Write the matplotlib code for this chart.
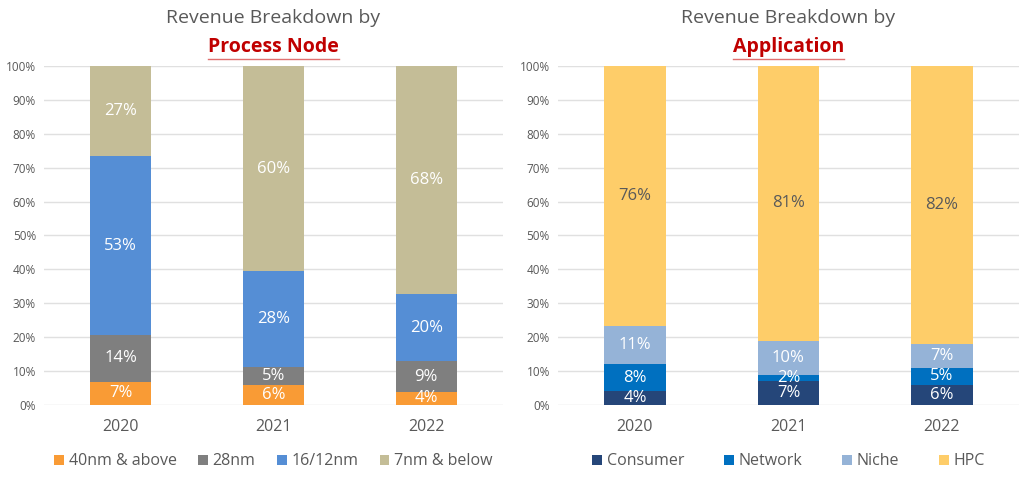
import matplotlib.pyplot as plt
import numpy as np
from matplotlib.ticker import PercentFormatter
from matplotlib.lines import Line2D

plt.rcParams['font.family'] = ['Open Sans', 'DejaVu Sans']

years = ['2020', '2021', '2022']

node_names = ['40nm & above', '28nm', '16/12nm', '7nm & below']
node_vals = [[7, 6, 4],      # 40nm & above
             [14, 5, 9],     # 28nm
             [53, 28, 20],   # 16/12nm
             [27, 60, 68]]   # 7nm & below
node_colors = ['#F99B35', '#7F7F7F', '#558ED5', '#C4BD97']
node_text = ['white', 'white', 'white', 'white']

app_names = ['Consumer', 'Network', 'Niche', 'HPC']
app_vals = [[4, 7, 6],       # Consumer
            [8, 2, 5],       # Network
            [11, 10, 7],     # Niche
            [76, 81, 82]]    # HPC
app_colors = ['#254679', '#0070C0', '#95B3D7', '#FECD69']
app_text = ['white', 'white', 'white', '#595959']

GRAY = '#595959'
RED = '#C00000'

fig = plt.figure(figsize=(10.30, 4.91), dpi=100)
ax1 = fig.add_axes([0.043, 0.175, 0.445, 0.691])
ax2 = fig.add_axes([0.542, 0.175, 0.447, 0.691])


def stacked(ax, names, vals, colors, tcolors, colspace):
    vals = np.array(vals, dtype=float)
    share = vals / vals.sum(axis=0) * 100  # 100% stacked
    x = np.arange(len(years))
    bottom = np.zeros(len(years))
    for name, v, s, c, tc in zip(names, vals, share, colors, tcolors):
        bars = ax.bar(x, s, 0.4, bottom=bottom, color=c, label=name, zorder=2)
        ax.bar_label(bars, labels=['%d%%' % n for n in v], label_type='center',
                     color=tc, fontsize=12)
        bottom += s
    ax.set_xticks(x, years)
    ax.set_xlim(-0.5, len(years) - 0.5)
    ax.set_ylim(0, 100)
    ax.set_yticks(np.arange(0, 101, 10))
    ax.yaxis.set_major_formatter(PercentFormatter(decimals=0))
    ax.tick_params(length=0)
    ax.tick_params(axis='y', labelsize=8.5, labelcolor=GRAY, pad=6)
    ax.tick_params(axis='x', labelsize=11.5, labelcolor=GRAY, pad=10)
    for sp in ax.spines.values():
        sp.set_visible(False)
    ax.grid(axis='y', color='#E0E0E0', linewidth=1, zorder=0)
    ax.set_axisbelow(True)
    leg = ax.legend(loc='upper center', bbox_to_anchor=(0.5, -0.10), ncol=4,
                    frameon=False, handlelength=0.6, handleheight=0.6,
                    handletextpad=0.3, columnspacing=colspace, fontsize=11.5)
    for t in leg.get_texts():
        t.set_color(GRAY)


stacked(ax1, node_names, node_vals, node_colors, node_text, 1.35)
stacked(ax2, app_names, app_vals, app_colors, app_text, 2.5)

titles = [(ax1, 'Process Node'), (ax2, 'Application')]
fig.canvas.draw()
r = fig.canvas.get_renderer()
for ax, sub in titles:
    b = ax.get_position()
    cx = (b.x0 + b.x1) / 2
    fig.text(cx, 0.963, 'Revenue Breakdown by', ha='center', va='center',
             fontsize=14, color=GRAY)
    t = fig.text(cx, 0.905, sub, ha='center', va='center', fontsize=14,
                 color=RED, fontweight='bold')
    ext = t.get_window_extent(r).transformed(fig.transFigure.inverted())
    fig.add_artist(Line2D([ext.x0, ext.x1], [ext.y0 - 0.004, ext.y0 - 0.004],
                          transform=fig.transFigure, color='#E07070', lw=1))

fig.savefig('out.png', dpi=100)
